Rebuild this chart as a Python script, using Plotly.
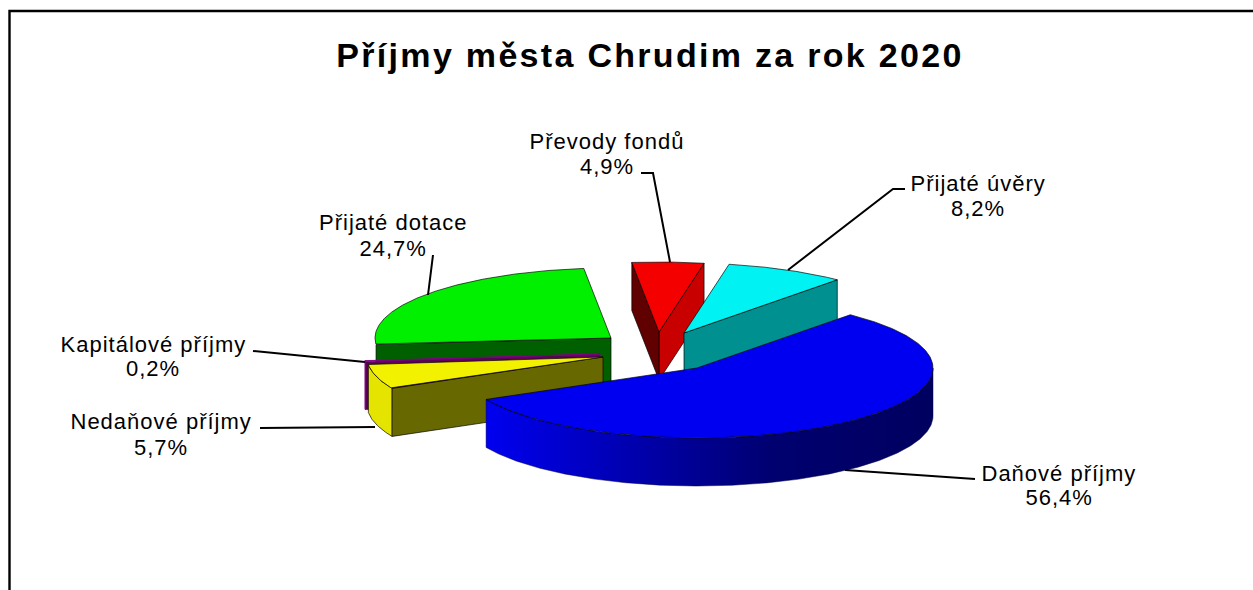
import numpy as np
import plotly.graph_objects as go

TITLE = "Příjmy města Chrudim za rok 2020"
categories = ["Daňové příjmy", "Nedaňové příjmy", "Kapitálové příjmy",
              "Přijaté dotace", "Převody fondů", "Přijaté úvěry"]
values = [56.4, 5.7, 0.2, 24.7, 4.9, 8.2]
value_labels = ["56,4%", "5,7%", "0,2%", "24,7%", "4,9%", "8,2%"]

# Projection of the tilted pie into the picture
RX, RY, DEPTH = 236.0, 70.0, 48.0
START = 49.5
centres = {
    "Daňové příjmy": (697, 368),
    "Nedaňové příjmy": (603, 357),
    "Kapitálové příjmy": (600, 354),
    "Přijaté dotace": (611, 338),
    "Převody fondů": (659, 332),
    "Přijaté úvěry": (684, 333),
}
top_colours = {
    "Daňové příjmy": "#0000f0", "Nedaňové příjmy": "#f2f200",
    "Kapitálové příjmy": "#800080", "Přijaté dotace": "#00f000",
    "Převody fondů": "#f50000", "Přijaté úvěry": "#00f2f2",
}
outer_colours = {"Nedaňové příjmy": "#e4e400", "Kapitálové příjmy": "#4a004a"}
start_wall = {"Převody fondů": "#600000", "Přijaté dotace": "#006000",
              "Nedaňové příjmy": "#686800", "Kapitálové příjmy": "#5a005a"}
end_wall = {"Převody fondů": "#c80000", "Přijaté úvěry": "#009090"}
BLUE_WALL = [[0, "#0000f0"], [0.3, "#0000b4"], [0.64, "#000070"], [1, "#000060"]]
draw_order = ["Přijaté dotace", "Kapitálové příjmy", "Nedaňové příjmy",
              "Převody fondů", "Přijaté úvěry", "Daňové příjmy"]

label_pos = {  # x, first-line y, second-line y
    "Daňové příjmy": (1059, 473, 497), "Nedaňové příjmy": (161, 421, 447),
    "Kapitálové příjmy": (153, 344, 368), "Přijaté dotace": (393, 222, 248),
    "Převody fondů": (607, 141, 166), "Přijaté úvěry": (978, 183, 208),
}
leaders = [
    [(975, 479), (845, 470)],
    [(260, 428), (375, 427)],
    [(253, 351), (365, 362)],
    [(433, 255), (428, 295)],
    [(641, 173), (653, 173), (670, 262)],
    [(905, 189), (893, 189), (788, 270)],
]

spans = {}
a = START
total = sum(values)
for c, v in zip(categories, values):
    spans[c] = (a, a - v / total * 360)
    a = spans[c][1]


def arc(c, t0, t1, dy=0.0):
    cx, cy = centres[c]
    t = np.radians(np.linspace(t0, t1, max(int(abs(t1 - t0)) * 2, 4)))
    return cx + RX * np.cos(t), cy - RY * np.sin(t) + dy


def poly(x, y, colour, line="rgba(0,0,0,0.85)", width=0.8, gradient=None):
    kw = {}
    if gradient:
        kw["fillgradient"] = dict(type="horizontal", colorscale=gradient)
    else:
        kw["fillcolor"] = colour
    return go.Scatter(x=list(x) + [x[0]], y=list(y) + [y[0]], mode="lines", fill="toself",
                      line=dict(color=line, width=width), hoverinfo="skip",
                      showlegend=False, **kw)


fig = go.Figure()

for c in draw_order:
    t0, t1 = spans[c]
    cx, cy = centres[c]
    ax0, ay0 = arc(c, t0, t0)[0][0], arc(c, t0, t0)[1][0]
    ax1, ay1 = arc(c, t1, t1)[0][0], arc(c, t1, t1)[1][0]
    edge = top_colours[c] if c == "Kapitálové příjmy" else "rgba(0,0,0,0.85)"
    # curved outer wall
    if c == "Daňové příjmy":
        x1, y1 = arc(c, 0, t1)
        x2, y2 = arc(c, t1, 0, DEPTH)
        fig.add_trace(poly(np.r_[x1, x2], np.r_[y1, y2], None, line="rgba(0,0,60,0.6)",
                           gradient=BLUE_WALL))
    elif c in outer_colours:
        x1, y1 = arc(c, t0, t1)
        x2, y2 = arc(c, t1, t0, DEPTH)
        fig.add_trace(poly(np.r_[x1, x2], np.r_[y1, y2], outer_colours[c], line=edge))
    # radial walls
    if c in end_wall:
        fig.add_trace(poly([cx, ax1, ax1, cx], [cy, ay1, ay1 + DEPTH, cy + DEPTH], end_wall[c]))
    if c in start_wall:
        fig.add_trace(poly([cx, ax0, ax0, cx], [cy, ay0, ay0 + DEPTH, cy + DEPTH], start_wall[c], line=edge))
    # top face
    x, y = arc(c, t0, t1)
    fig.add_trace(poly(np.r_[cx, x], np.r_[cy, y], top_colours[c], line=edge))

# leader lines
for pts in leaders:
    fig.add_trace(go.Scatter(x=[p[0] for p in pts], y=[p[1] for p in pts], mode="lines",
                             line=dict(color="#000", width=2), hoverinfo="skip", showlegend=False))

# frame of the embedded picture
fig.add_trace(go.Scatter(x=[9.5, 9.5, 1253], y=[590, 11, 11], mode="lines",
                         line=dict(color="#000", width=2.4), hoverinfo="skip", showlegend=False))

for c, lab in zip(categories, value_labels):
    x, y1, y2 = label_pos[c]
    for txt, y in ((c, y1), (lab, y2)):
        fig.add_annotation(x=x, y=y, text=txt, showarrow=False,
                           font=dict(family="Liberation Sans", size=22, color="#000"))

fig.update_layout(
    title=dict(text=f"<b>{TITLE}</b>", x=650 / 1253, y=1 - 55 / 590, xanchor="center", yanchor="middle",
               font=dict(family="Liberation Sans", size=34, color="#000")),
    width=1253, height=590, margin=dict(l=0, r=0, t=0, b=0),
    paper_bgcolor="#fff", plot_bgcolor="#fff", showlegend=False,
    xaxis=dict(range=[0, 1253], visible=False, fixedrange=True),
    yaxis=dict(range=[590, 0], visible=False, fixedrange=True),
)
POST = """
document.body.style.margin = '0';
document.querySelectorAll('.annotation-text').forEach(function (t) { t.style.letterSpacing = '1px'; });
document.querySelectorAll('.gtitle').forEach(function (t) { t.style.letterSpacing = '2.3px'; });
"""
fig.write_html("out.html", config={"displayModeBar": False}, post_script=POST)
